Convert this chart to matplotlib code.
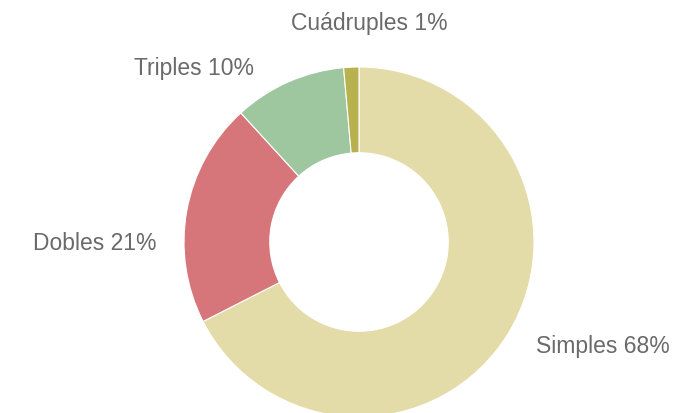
import matplotlib
matplotlib.use('Agg')
import matplotlib.pyplot as plt

# Data
categories = ['Simples', 'Dobles', 'Triples', 'Cuádruples']
shares = [67.5, 20.7, 10.4, 1.4]
labels = ['Simples 68%', 'Dobles 21%', 'Triples 10%', 'Cuádruples 1%']
colors = ['#e3dca9', '#d6767a', '#9ec69f', '#b7b14f']

W, H = 693, 414
fig = plt.figure(figsize=(W / 100, H / 100), dpi=100)
ax = fig.add_axes([0, 0, 1, 1])

cx, cy, r = 359, H - 243, 175
ax.pie(shares, colors=colors, startangle=90, counterclock=False,
       center=(cx, cy), radius=r, frame=True,
       wedgeprops=dict(width=r * 0.49, edgecolor='white', linewidth=0.8))
ax.set_xlim(0, W)
ax.set_ylim(0, H)
ax.set_aspect('equal')
ax.axis('off')

# label positions in pixels (x center, y from top)
label_pos = [(603, 347), (95, 244), (194, 69), (369, 23)]
for lab, (x, y) in zip(labels, label_pos):
    ax.text(x, H - y, lab, ha='center', va='center', fontsize=16.5,
            color='#6a6a6a', family='Liberation Sans')

plt.savefig('out.png', dpi=100)
